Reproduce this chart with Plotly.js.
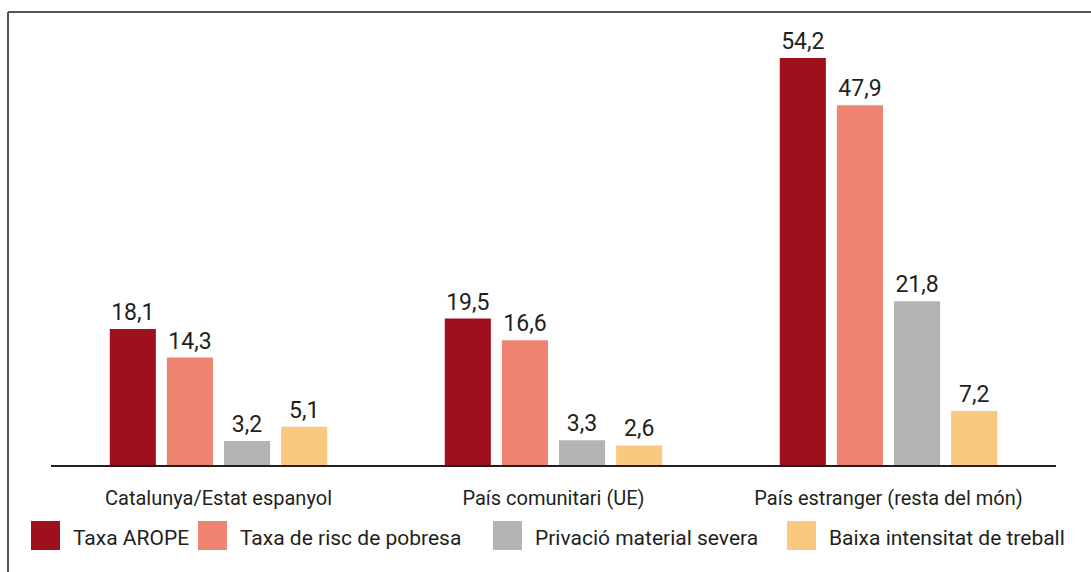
<!DOCTYPE html>
<html>
<head>
<meta charset="utf-8">
<script src="https://cdn.plot.ly/plotly-3.0.1.min.js"></script>
<style>
html,body{margin:0;padding:0;background:#fff;}
#chart{width:1091px;height:572px;}
</style>
</head>
<body>
<div id="chart"></div>
<script>
// ---- data ----
const categories = ['Catalunya/Estat espanyol', 'País comunitari (UE)', 'País estranger (resta del món)'];
const seriesNames = ['Taxa AROPE', 'Taxa de risc de pobresa', 'Privació material severa', 'Baixa intensitat de treball'];
const taxaArope = [18.1, 19.5, 54.2];
const taxaRisc = [14.3, 16.6, 47.9];
const privacio = [3.2, 3.3, 21.8];
const baixaIntensitat = [5.1, 2.6, 7.2];

// ---- styles ----
const colors = ['#9E111C', '#EF8472', '#B2B3B5', '#F9C97F'];
const textColor = '#231F20';
const fontFamily = 'Roboto, "Open Sans", sans-serif';

const W = 1091, H = 572;
const M = {l: 51, r: 35, t: 20, b: 107};
const plotW = W - M.l - M.r, plotH = H - M.t - M.b;
const px2x = p => (p - M.l) / plotW;
const py2y = p => (H - M.b - p) / plotH;

const values = [taxaArope, taxaRisc, privacio, baixaIntensitat];
const traces = values.map((v, i) => ({
  type: 'bar',
  name: seriesNames[i],
  x: categories,
  y: v,
  marker: {color: colors[i], line: {width: 0}},
  texttemplate: '%{y:.1f}',
  textposition: 'outside',
  constraintext: 'none',
  cliponaxis: false,
  textfont: {family: fontFamily, size: 23, color: textColor},
  hoverinfo: 'x+y+name'
}));

// custom legend (large squares)
const legendSquareX = [31, 198, 493, 787];
const sq = 29, legTop = 521, legTextGap = 11;
const shapes = [];
const annotations = [];
legendSquareX.forEach((lx, i) => {
  shapes.push({type: 'rect', xref: 'paper', yref: 'paper',
    x0: px2x(lx), x1: px2x(lx + sq), y0: py2y(legTop + sq), y1: py2y(legTop),
    fillcolor: colors[i], line: {width: 0}, layer: 'above'});
  annotations.push({xref: 'paper', yref: 'paper', x: px2x(lx + sq + legTextGap), y: py2y(legTop + sq / 2 + 2),
    xanchor: 'left', yanchor: 'middle', showarrow: false, text: seriesNames[i],
    font: {family: fontFamily, size: 21, color: textColor}});
});
// frame (top + left)
shapes.push({type: 'line', xref: 'paper', yref: 'paper', x0: px2x(8), x1: px2x(W + 2), y0: py2y(12), y1: py2y(12), line: {color: '#555', width: 2}});
shapes.push({type: 'line', xref: 'paper', yref: 'paper', x0: px2x(8), x1: px2x(8), y0: py2y(12), y1: py2y(H + 2), line: {color: '#555', width: 2}});

const layout = {
  width: W, height: H,
  margin: M,
  paper_bgcolor: '#fff', plot_bgcolor: '#fff',
  separators: ',.',
  barmode: 'group',
  bargap: 0.318,
  bargroupgap: 0.193,
  showlegend: false,
  font: {family: fontFamily, color: textColor},
  xaxis: {
    showline: true, linecolor: '#231F20', linewidth: 2,
    ticks: '', showgrid: false, zeroline: false,
    tickfont: {family: fontFamily, size: 20, color: textColor},
    ticklabelstandoff: 14,
    fixedrange: true
  },
  yaxis: {
    range: [0, 59.26], visible: false, showgrid: false, zeroline: false, fixedrange: true
  },
  shapes: shapes,
  annotations: annotations
};

Plotly.newPlot('chart', traces, layout, {displayModeBar: false, staticPlot: true});
</script>
</body>
</html>
